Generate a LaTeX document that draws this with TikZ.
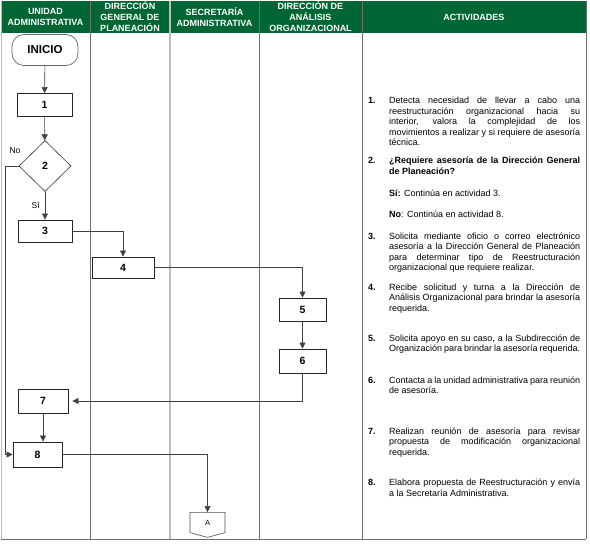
\documentclass[tikz,border=0pt]{standalone}
\usepackage{fontspec}
\setmainfont{Liberation Sans}
\usetikzlibrary{shapes.geometric, shapes.symbols, arrows.meta, positioning}
\definecolor{headgreen}{HTML}{006633}
\definecolor{lanegray}{HTML}{6E6E6E}
\definecolor{lanelight}{HTML}{BDBDBD}
\newcommand{\actnum}[1]{\noindent\llap{\makebox[21pt][l]{\bfseries #1}}}
\tikzset{
  lanehead/.style={text=white, align=center, inner sep=0pt,
                   font=\fontsize{9}{11}\selectfont\bfseries},
  stepbox/.style={rectangle, draw=black!85, line width=0.8pt, inner sep=0pt,
                  minimum height=23pt, font=\fontsize{10.5}{12}\selectfont\bfseries},
  startbox/.style={rectangle, rounded corners=12pt, draw=black!60, line width=0.7pt,
                   minimum width=66pt, minimum height=31pt,
                   font=\fontsize{11.5}{13}\selectfont\bfseries},
  decision/.style={diamond, draw=black!80, line width=0.6pt, inner sep=0pt,
                   minimum width=52pt, minimum height=51pt,
                   font=\fontsize{10.5}{12}\selectfont\bfseries},
  offpage/.style={signal, signal to=south, signal pointer angle=150,
                  draw=black!70, line width=0.6pt, inner sep=0pt,
                  minimum width=35pt, minimum height=21pt,
                  font=\fontsize{7.5}{9}\selectfont},
  flow/.style={-{Triangle[length=6pt, width=6pt]}, draw=black!75, line width=0.6pt},
  lbl/.style={font=\fontsize{8.5}{10}\selectfont, inner sep=0pt},
  acttext/.style={anchor=base west, inner sep=0pt, text width=191pt, align=justify,
                  font=\fontsize{9}{10.4}\selectfont},
}
\tolerance=10000
\hyphenpenalty=10000

\begin{document}
\begin{tikzpicture}[x=1pt, y=-1pt]
  \useasboundingbox (0,0) rectangle (590,545);

  % swimlanes
  \fill[headgreen] (1,1) rectangle (586,33);
  \draw[lanelight, line width=1pt] (1,1) -- (1,539);
  \draw[lanegray, line width=0.7pt] (90,1) -- (90,539);
  \draw[lanelight, line width=1.5pt] (170,1) -- (170,539);
  \draw[lanegray, line width=0.7pt] (259,1) -- (259,539);
  \draw[lanegray, line width=0.8pt] (362,1) -- (362,539);
  \draw[lanegray, line width=0.8pt] (586,1) -- (586,539);
  \draw[lanegray, line width=0.8pt] (1,539) -- (586,539);

  \node[lanehead] (hUA)  at (45.5,17)  {UNIDAD\\ADMINISTRATIVA};
  \node[lanehead] (hDGP) at (130,17)   {DIRECCIÓN\\GENERAL DE\\PLANEACIÓN};
  \node[lanehead] (hSA)  at (214.5,17) {SECRETARÍA\\ADMINISTRATIVA};
  \node[lanehead] (hDAO) at (310.5,17) {DIRECCIÓN DE\\ANÁLISIS\\ORGANIZACIONAL};
  \node[lanehead] (hAct) at (474,17)   {ACTIVIDADES};

  % flow
  \node[startbox] (inicio) at (45,50) {INICIO};
  \node[stepbox, minimum width=55pt] (s1) at (44.5,105) {1};
  \node[decision] (s2) at (45,166) {2};
  \node[stepbox, minimum width=54pt, minimum height=22pt] (s3) at (45,231) {3};
  \node[stepbox, minimum width=62pt, minimum height=21pt] (s4) at (123,267.5) {4};
  \node[stepbox, minimum width=47pt] (s5) at (302.5,309.5) {5};
  \node[stepbox, minimum width=47pt, minimum height=24pt] (s6) at (302.5,361) {6};
  \node[stepbox, minimum width=50pt, minimum height=24pt] (s7) at (43,401) {7};
  \node[stepbox, minimum width=49pt, minimum height=25pt] (s8) at (37.5,454.5) {8};
  \node[offpage] (conA) at (207.5,522.5) {A};

  \draw[flow] (inicio) -- (s1);
  \draw[flow] (s1) -- (s2);
  \draw[flow] (s2) -- node[lbl, midway, left=5pt] {Sí} (s3);
  \draw[flow] (s2.west) node[lbl, above left, xshift=2pt, yshift=12pt] {No}
    -- ++(-13,0) |- (s8.west);
  \draw[flow] (s3.east) -| (s4.north);
  \draw[flow] (s4.east) -| (s5.north);
  \draw[flow] (s5) -- (s6);
  \draw[flow] (s6.south) |- ([xshift=4pt]s7.east);
  \draw[flow] (s7.south) -- (s7.south |- s8.north);
  \draw[flow] (s8.east) -| (conA.north);

  % actividades
  \node[acttext] (a1) at (389,104) {\actnum{1.}Detecta necesidad de llevar a cabo una\linebreak
    reestructuración organizacional hacia su\linebreak
    interior, valora la complejidad de los\linebreak
    movimientos a realizar y si requiere de asesoría\linebreak
    técnica.};
  \node[acttext, font=\fontsize{9}{10.4}\selectfont\bfseries] (a2) at (389,164)
    {\actnum{2.}¿Requiere asesoría de la Dirección General\linebreak de Planeación?};
  \node[acttext] (a2si) at (389,196.5) {\textbf{Sí:} Continúa en actividad 3.};
  \node[acttext] (a2no) at (389,217.5) {\textbf{No}: Continúa en actividad 8.};
  \node[acttext] (a3) at (389,239.5) {\actnum{3.}Solicita mediante oficio o correo electrónico\linebreak
    asesoría a la Dirección General de Planeación\linebreak
    para determinar tipo de Reestructuración\linebreak
    organizacional que requiere realizar.};
  \node[acttext] (a4) at (389,290.5) {\actnum{4.}Recibe solicitud y turna a la Dirección de\linebreak
    Análisis Organizacional para brindar la asesoría\linebreak
    requerida.};
  \node[acttext] (a5) at (389,341.5) {\actnum{5.}Solicita apoyo en su caso, a la Subdirección de\linebreak
    Organización para brindar la asesoría requerida.};
  \node[acttext] (a6) at (389,383.5) {\actnum{6.}Contacta a la unidad administrativa para reunión\linebreak
    de asesoría.};
  \node[acttext] (a7) at (389,434.5) {\actnum{7.}Realizan reunión de asesoría para revisar\linebreak
    propuesta de modificación organizacional\linebreak
    requerida.};
  \node[acttext] (a8) at (389,486) {\actnum{8.}Elabora propuesta de Reestructuración y envía\linebreak
    a la Secretaría Administrativa.};
\end{tikzpicture}
\end{document}
